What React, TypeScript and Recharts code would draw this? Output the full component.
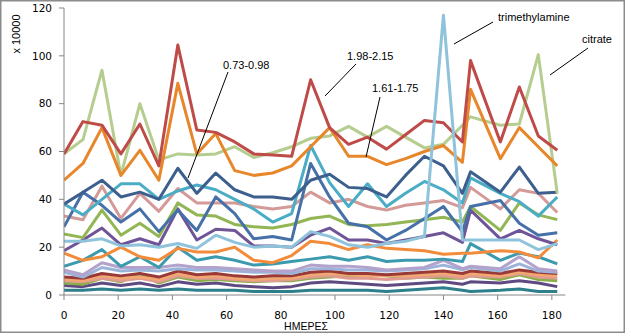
import React from 'react';
import { LineChart, Line, XAxis, YAxis } from 'recharts';

const days = [0, 7, 14, 21, 28, 35, 42, 49, 56, 63, 70, 77, 84, 91, 98, 105, 112, 119, 126, 133, 140, 147, 150, 161, 168, 175, 182];

const xTicks = [0, 20, 40, 60, 80, 100, 120, 140, 160, 180];
const yTicks = [0, 20, 40, 60, 80, 100, 120];

// 1.98-2.15
const red = [59, 72.5, 71, 59, 71.5, 54, 104.5, 69, 68, 64, 59, 58.5, 58, 90, 70, 63, 66, 61, 67, 73, 72, 64, 98, 64, 87, 66.5, 60.5];
// 1.61-1.75
const orangeDark = [48, 55, 70, 50, 60.5, 48, 88.5, 59, 67.5, 52, 50, 51, 54, 62, 70, 58, 58, 54.5, 57, 60, 62.5, 55.5, 86, 57, 70, 62, 54];
// citrate
const citrate = [59, 65, 94, 50, 80, 56.5, 59, 58.5, 59, 62, 57.5, 59.5, 62, 65.5, 66.5, 70.5, 66, 70.5, 66, 61.5, 63, 71, 74.5, 71, 71.5, 100.5, 42.5];
// trimethylamine
const trimethylamine = [22.5, 22.5, 23.5, 20.5, 21, 20, 21.5, 19.5, 25, 22, 20, 20.5, 20, 26.5, 24.5, 21, 20, 21.5, 22.5, 24.5, 117, 23, 23, 23, 23, 19, 21.5];
// 0.73-0.98
const darkBlueA = [38, 43, 48, 41, 43, 40, 53, 42.5, 51, 44, 41, 41, 40, 48, 50.5, 45, 44.5, 41, 50, 58, 54, 42.5, 51.5, 43, 53.5, 42.5, 43];
const blueB = [28.5, 43, 37.5, 30.5, 36, 26.5, 35.5, 27, 41, 34, 23.5, 24.5, 23, 55, 41, 30, 28.5, 23, 27, 32, 37, 26.5, 37, 39.5, 30, 25, 26];
const cyan = [38, 33.5, 40, 46.5, 46.5, 40, 43.5, 46, 44, 40, 36, 30.5, 34, 62.5, 47, 37, 46.5, 37, 42.5, 47.5, 44, 38.5, 49, 42.5, 39, 33, 41];
const pink = [33, 31.5, 45.5, 32, 42.5, 35, 44.5, 38.5, 38.5, 38.5, 37, 36, 37, 43, 38.5, 40, 37, 35.5, 37.5, 38.5, 39.5, 36.5, 45, 36, 44, 42.5, 34.5];
const green = [25.5, 24, 35.5, 25, 30, 24.5, 38.5, 33.5, 33, 29.5, 28.5, 28, 29.5, 32, 33, 29.5, 29, 29.5, 30.5, 31.5, 32.5, 30.5, 37, 27, 38.5, 33.5, 31.5];
const purple = [18.5, 23, 28, 21, 23.5, 21, 36, 23, 27.5, 27, 20.5, 20.5, 20, 25, 28, 23, 23, 21.5, 23, 24.5, 26, 22, 35.5, 23.5, 27, 23.5, 21];
const orangeLight = [17.5, 14.5, 16, 20, 16, 14.5, 19.5, 18, 18, 20, 14.5, 13.5, 16.5, 22.5, 21.5, 19, 21, 19.5, 19, 18.5, 17, 17.5, 17.5, 18.5, 18, 15.5, 23];
const teal = [12, 14.5, 19, 12, 16, 11.5, 20, 14.5, 16, 14.5, 12.5, 13, 14, 15, 16, 14.5, 16, 14, 14.5, 14.5, 15, 14, 21.5, 14.5, 17.5, 16, 13];
const lavender = [10.5, 8.5, 13.5, 11.5, 11.5, 11.5, 12.5, 11.5, 11.5, 11, 10.5, 10, 10, 12.5, 12, 12, 11.5, 10.5, 11, 11.5, 14.5, 11, 12, 11, 16, 11, 10];
const periwinkle = [9.5, 7.5, 11.5, 10, 10.5, 10, 11, 10.5, 10.5, 10, 9.5, 9.5, 9, 11, 11, 10.5, 10.5, 10, 10.5, 11, 12.5, 10.5, 11.5, 10, 13, 10, 9.5];
const maroon = [7.5, 7, 9, 8, 9, 7.5, 10, 8.5, 9, 8, 7.5, 8, 8, 9.5, 10, 9, 9, 8.5, 9, 9.5, 10, 9, 10, 9, 10.5, 9.5, 9];
const peach = [6.5, 6, 8, 7, 7.5, 6.5, 9, 7.5, 8, 7, 6.5, 7, 7, 8.5, 9, 8.5, 8, 8, 8, 8.5, 9, 8, 9, 8, 9.5, 8.5, 8];
const olive = [5, 4.5, 7, 5.5, 9, 5, 7.5, 6, 6.5, 6, 5.5, 6, 6, 7, 7.5, 8, 8.5, 8, 7, 7.5, 7, 7, 8, 6.5, 8.5, 6.5, 6];
const salmon = [6, 5.5, 7, 6, 7, 5.5, 8, 7, 7, 6.5, 6, 6, 6.5, 7.5, 8, 7, 7, 6.5, 7, 7.5, 8, 7, 8, 7.5, 9, 7.5, 7];
const darkPurple = [4, 3.5, 5, 4, 5, 3.5, 5.5, 4.5, 5, 4, 3.5, 3, 3.5, 5, 5.5, 5, 4.5, 4, 4.5, 5, 5.5, 4.5, 5.5, 5, 6, 5, 3.5];
const darkTeal = [2, 2, 2.5, 2, 2.5, 2, 2.5, 2, 2, 2, 1.5, 1.5, 1.5, 2, 2, 2, 2, 1.5, 2, 2.5, 3, 2, 1.5, 2, 2.5, 1.5, 1.5];

const series = [
  { key: 'darkTeal', values: darkTeal, color: '#2E7F8C' },
  { key: 'darkPurple', values: darkPurple, color: '#5E4A80' },
  { key: 'olive', values: olive, color: '#8AAE48' },
  { key: 'salmon', values: salmon, color: '#E09A92' },
  { key: 'peach', values: peach, color: '#F2A870' },
  { key: 'maroon', values: maroon, color: '#9A3A38' },
  { key: 'periwinkle', values: periwinkle, color: '#9DB4DA' },
  { key: 'lavender', values: lavender, color: '#B3A2CC' },
  { key: 'teal', values: teal, color: '#3C9AAE' },
  { key: 'orangeLight', values: orangeLight, color: '#F28C3A' },
  { key: 'purple', values: purple, color: '#6F5597' },
  { key: 'green', values: green, color: '#92B653' },
  { key: 'pink', values: pink, color: '#D49A98' },
  { key: 'blueB', values: blueB, color: '#4670A8' },
  { key: 'cyan', values: cyan, color: '#4BACC6' },
  { key: 'darkBlueA', values: darkBlueA, color: '#3C5F8E' },
  { key: 'citrate', values: citrate, color: '#B5CD8E' },
  { key: 'orangeDark', values: orangeDark, color: '#E8862A' },
  { key: 'red', values: red, color: '#BE4B48' },
  { key: 'trimethylamine', values: trimethylamine, color: '#8EC3DB' },
];

const rows = days.map((d, i) => {
  const r: Record<string, number> = { day: d };
  series.forEach((s) => {
    r[s.key] = s.values[i];
  });
  return r;
});

const annotations = [
  { text: '0.73-0.98', tx: 223, ty: 69, x1: 228, y1: 72, x2: 188, y2: 178 },
  { text: '1.98-2.15', tx: 347, ty: 60, x1: 356, y1: 64, x2: 325, y2: 96 },
  { text: '1.61-1.75', tx: 372, ty: 92, x1: 380, y1: 97, x2: 366, y2: 157 },
  { text: 'trimethylamine', tx: 498, ty: 21, x1: 493, y1: 22, x2: 454, y2: 44 },
  { text: 'citrate', tx: 582, ty: 43, x1: 588, y1: 48, x2: 550, y2: 75 },
];

const tickStyle = { fill: '#000', fontSize: 10.5, fontFamily: 'DejaVu Sans' };

export default function App() {
  return (
    <div style={{ position: 'absolute', left: 0, top: 0, width: 631, height: 336, background: '#fff' }}>
      <LineChart width={631} height={336} data={rows} margin={{ top: 8, right: 65.6, bottom: 11, left: 4 }}>
        <XAxis
          dataKey="day"
          type="number"
          domain={[0, 185]}
          ticks={xTicks}
          allowDataOverflow
          height={30}
          tickSize={5}
          tickMargin={12}
          axisLine={{ stroke: '#868686' }}
          tickLine={{ stroke: '#868686' }}
          tick={tickStyle}
        />
        <YAxis
          type="number"
          domain={[0, 120]}
          ticks={yTicks}
          width={60}
          tickSize={5}
          tickMargin={7}
          axisLine={{ stroke: '#868686' }}
          tickLine={{ stroke: '#868686' }}
          tick={tickStyle}
        />
        {series.map((s) => (
          <Line
            key={s.key}
            dataKey={s.key}
            type="linear"
            stroke={s.color}
            strokeWidth={3}
            strokeLinejoin="round"
            dot={false}
            activeDot={false}
            isAnimationActive={false}
          />
        ))}
      </LineChart>
      <svg width={631} height={336} style={{ position: 'absolute', left: 0, top: 0, pointerEvents: 'none' }}>
        <rect x={0.75} y={0.75} width={623.5} height={331.5} fill="none" stroke="#8c8c8c" strokeWidth={1.5} />
        <text x={20} y={34} transform="rotate(-90 20 34)" textAnchor="middle" fontFamily="Liberation Sans" fontSize={11} fill="#000">x 10000</text>
        <text x={306} y={330} textAnchor="middle" fontFamily="Liberation Sans" fontSize={10.5} fill="#000">ΗΜΕΡΕΣ</text>
        {annotations.map((a) => (
          <g key={a.text}>
            <line x1={a.x1} y1={a.y1} x2={a.x2} y2={a.y2} stroke="#000" strokeWidth={1} />
            <text x={a.tx} y={a.ty} fontFamily="Liberation Sans" fontSize={11} fill="#000">{a.text}</text>
          </g>
        ))}
      </svg>
    </div>
  );
}
